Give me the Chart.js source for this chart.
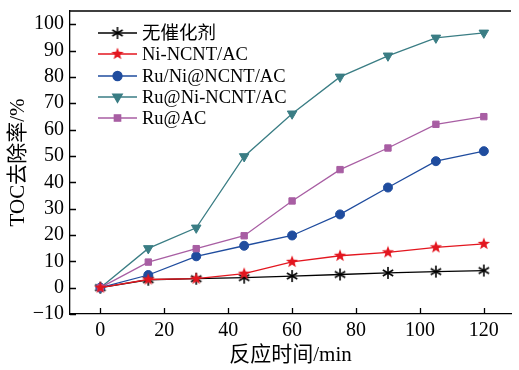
<!DOCTYPE html>
<html>
<head>
<meta charset="utf-8">
<script src="https://cdn.jsdelivr.net/npm/chart.js@4/dist/chart.umd.min.js"></script>
<style>
  html, body { margin: 0; padding: 0; background: #fff; }
  #wrap { width: 519px; height: 370px; }
</style>
</head>
<body>
<div id="wrap"><canvas id="c" width="519" height="370"></canvas></div>
<script>
// Reaction time (min)
const times = [0, 15, 30, 45, 60, 75, 90, 105, 120];

// TOC removal (%) per catalyst
const seriesNames = ['无催化剂', 'Ni-NCNT/AC', 'Ru/Ni@NCNT/AC', 'Ru@Ni-NCNT/AC', 'Ru@AC'];
const noCatalyst = [0, 3.0, 3.4, 3.8, 4.4, 5.0, 5.6, 6.1, 6.5];
const niNcntAc   = [0, 3.1, 3.4, 5.3, 9.8, 12.1, 13.4, 15.3, 16.6];
const ruNiNcntAc = [0, 4.8, 11.9, 15.9, 19.8, 27.8, 38, 48, 51.8];
const ruAtNiNcnt = [0, 14.9, 22.7, 49.8, 66, 80, 88, 94.8, 96.7];
const ruAc       = [0, 9.7, 14.8, 19.7, 32.9, 44.8, 53, 62, 64.9];

// Axis ticks
const xTicks = [0, 20, 40, 60, 80, 100, 120];
const yTicks = [-10, 0, 10, 20, 30, 40, 50, 60, 70, 80, 90, 100];

const FONT = '"Liberation Serif", "Times New Roman", "Noto Sans CJK SC", serif';

function makeCanvas(size, draw) {
  const cv = document.createElement('canvas');
  cv.width = size; cv.height = size;
  const g = cv.getContext('2d');
  draw(g, size / 2);
  return cv;
}
// six-armed asterisk marker
const asteriskImg = makeCanvas(14, (g, c) => {
  g.strokeStyle = '#000'; g.lineWidth = 1.6;
  for (let k = 0; k < 3; k++) {
    const a = Math.PI / 2 + k * Math.PI / 3;
    g.beginPath();
    g.moveTo(c + Math.cos(a) * 6, c + Math.sin(a) * 6);
    g.lineTo(c - Math.cos(a) * 6, c - Math.sin(a) * 6);
    g.stroke();
  }
});
// filled five-pointed star marker
const starImg = makeCanvas(14, (g, c) => {
  g.fillStyle = '#e3161f';
  g.beginPath();
  for (let k = 0; k < 10; k++) {
    const r = k % 2 === 0 ? 6.5 : 2.7;
    const a = -Math.PI / 2 + k * Math.PI / 5;
    const px = c + Math.cos(a) * r, py = c + Math.sin(a) * r;
    k === 0 ? g.moveTo(px, py) : g.lineTo(px, py);
  }
  g.closePath(); g.fill();
});

function ds(label, data, color, style, radius, rotation) {
  return {
    label, data, borderColor: color, backgroundColor: color,
    borderWidth: 1.3, pointStyle: style, pointRadius: radius,
    pointHoverRadius: radius, pointRotation: rotation || 0,
    pointBorderWidth: 1, tension: 0
  };
}

const datasets = [
  ds(seriesNames[1], niNcntAc, '#e3161f', starImg, 6),
  ds(seriesNames[4], ruAc, '#a85ea3', 'rect', 4.5),
  ds(seriesNames[2], ruNiNcntAc, '#1f4c9e', 'circle', 4.5),
  ds(seriesNames[3], ruAtNiNcnt, '#3a7d84', 'triangle', 5.5, 180),
  ds(seriesNames[0], noCatalyst, '#000000', asteriskImg, 7),
];

// inward ticks, top frame line and legend with line + marker samples
const decor = {
  id: 'decor',
  afterDraw(chart) {
    const { ctx, chartArea: a, scales } = chart;
    ctx.save();
    ctx.strokeStyle = '#000'; ctx.lineWidth = 1.3;
    ctx.beginPath();
    ctx.moveTo(a.left, a.top); ctx.lineTo(a.right, a.top);
    xTicks.forEach(v => {
      const x = Math.round(scales.x.getPixelForValue(v)) + 0.5;
      ctx.moveTo(x, a.bottom); ctx.lineTo(x, a.bottom - 6);
    });
    yTicks.forEach(v => {
      const y = Math.round(scales.y.getPixelForValue(v)) + 0.5;
      ctx.moveTo(a.left, y); ctx.lineTo(a.left + 6, y);
    });
    ctx.stroke();

    const order = [4, 0, 2, 3, 1];
    const rowY = [33, 54, 76, 97, 118];
    order.forEach((di, i) => {
      const d = chart.data.datasets[di];
      const y = rowY[i];
      ctx.strokeStyle = d.borderColor; ctx.lineWidth = 1.3;
      ctx.beginPath(); ctx.moveTo(98, y); ctx.lineTo(137, y); ctx.stroke();
      ctx.save();
      ctx.fillStyle = d.backgroundColor; ctx.strokeStyle = d.borderColor;
      Chart.helpers.drawPoint(ctx, {
        pointStyle: d.pointStyle, radius: d.pointRadius, rotation: d.pointRotation,
        borderWidth: 1
      }, 117.5, y);
      ctx.restore();
      ctx.fillStyle = '#000';
      ctx.font = '18.5px ' + FONT;
      ctx.textBaseline = 'middle';
      ctx.fillText(d.label, 142, y + 1);
    });
    ctx.restore();
  }
};

new Chart(document.getElementById('c'), {
  type: 'line',
  data: { datasets: datasets.map(d => Object.assign(d, {
    data: d.data.map((v, i) => ({ x: times[i], y: v }))
  })) },
  options: {
    responsive: false, animation: false,
    layout: { padding: { top: 11, right: 1, left: 0, bottom: 0 } },
    plugins: { legend: { display: false }, tooltip: { enabled: false } },
    scales: {
      x: {
        type: 'linear', min: -9.5, max: 128.5,
        afterBuildTicks: s => { s.ticks = xTicks.map(v => ({ value: v })); },
        afterFit: s => { s.height = 56; s.paddingLeft = 0; s.paddingRight = 0; },
        grid: { display: false, drawTicks: false },
        border: { display: true, color: '#000', width: 1.3 },
        ticks: { color: '#000', font: { family: FONT, size: 20 }, padding: 5,
                 maxRotation: 0, autoSkip: false },
        title: { display: true, text: '反应时间/min', color: '#000',
                 font: { family: FONT, size: 21 }, padding: { top: 0, bottom: 2 } }
      },
      y: {
        min: -10, max: 105,
        afterBuildTicks: s => { s.ticks = yTicks.map(v => ({ value: v })); },
        afterFit: s => { s.width = 70; s.paddingTop = 0; s.paddingBottom = 0; },
        grid: { display: false, drawTicks: false },
        border: { display: true, color: '#000', width: 1.3 },
        ticks: { color: '#000', font: { family: FONT, size: 20 }, padding: 6, autoSkip: false,
                 callback: v => (v < 0 ? '\u2212' + Math.abs(v) : '' + v) },
        title: { display: true, text: 'TOC去除率/%', color: '#000',
                 font: { family: FONT, size: 21 }, padding: { top: 6, bottom: 2 } }
      }
    }
  },
  plugins: [decor]
});
</script>
</body>
</html>
